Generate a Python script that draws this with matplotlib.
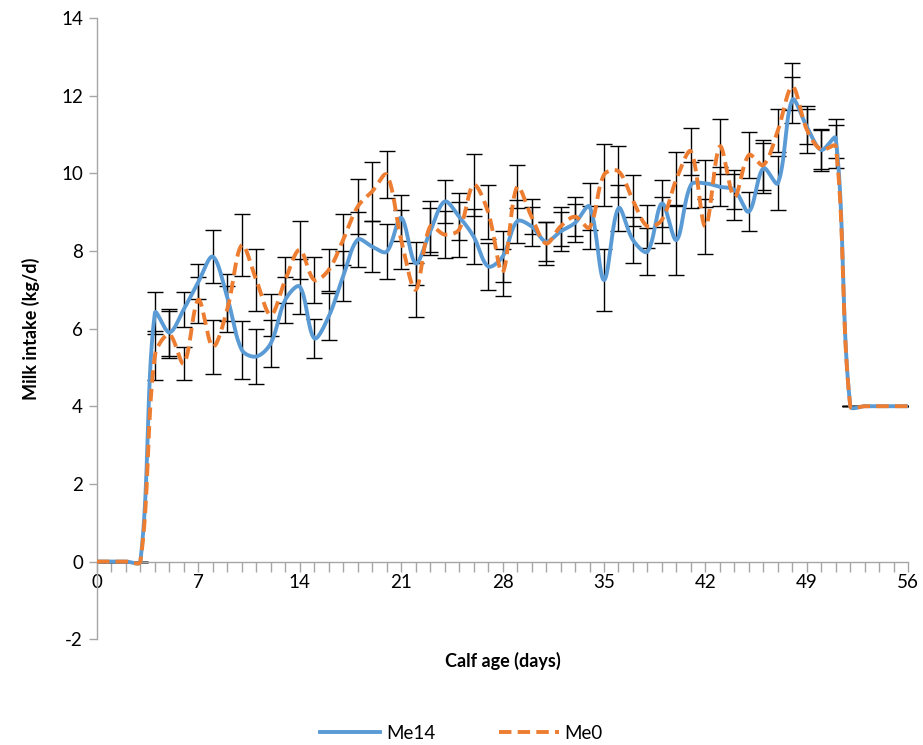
import numpy as np
import matplotlib
matplotlib.use("Agg")
import matplotlib.pyplot as plt
from matplotlib.ticker import MultipleLocator

plt.rcParams["font.family"] = ["Lato", "DejaVu Sans"]
plt.rcParams["axes.unicode_minus"] = False

days = list(range(57))

me14 = [0, 0, 0, 0, 6.4, 5.9, 6.5, 7.2, 7.85, 6.8,
        5.45, 5.28, 5.62, 6.74, 7.08, 5.75, 6.31, 7.35, 8.29, 8.11,
        7.98, 8.85, 7.68, 8.5, 9.27, 8.88, 8.37, 7.6, 7.85, 8.76,
        8.63, 8.24, 8.5, 8.72, 9.14, 7.25, 9.1, 8.28, 7.98, 9.22,
        8.28, 9.7, 9.74, 9.65, 9.57, 9.01, 10.13, 9.74, 11.89, 11.2,
        10.6, 10.9, 4.0, 4.0, 4.0, 4.0, 4.0]
me0 = [0, 0, 0, 0, 5.3, 5.85, 5.1, 6.74, 5.53, 6.5,
       8.15, 7.25, 6.35, 7.25, 8.03, 7.25, 7.51, 8.29, 9.14, 9.53,
       9.96, 8.29, 7.0, 8.63, 8.42, 8.55, 9.7, 9.0, 7.45, 9.65,
       8.88, 8.19, 8.63, 8.88, 8.6, 9.96, 10.05, 9.3, 8.63, 8.8,
       9.85, 10.56, 8.63, 10.69, 9.39, 10.47, 10.21, 11.1, 12.23, 11.12,
       10.6, 10.69, 4.0, 4.0, 4.0, 4.0, 4.0]

se14 = [0, 0, 0, 0, 0.55, 0.6, 0.45, 0.45, 0.69, 0.6,
        0.75, 0.7, 0.6, 0.6, 0.7, 0.5, 0.6, 0.65, 0.7, 0.65,
        0.7, 0.6, 0.55, 0.6, 0.55, 0.6, 0.7, 0.6, 0.65, 0.55,
        0.5, 0.5, 0.5, 0.5, 0.6, 0.8, 0.6, 0.6, 0.6, 0.6,
        0.9, 0.6, 0.6, 0.5, 0.5, 0.5, 0.65, 0.7, 0.6, 0.45,
        0.55, 0.5, 0, 0, 0, 0, 0]
se0 = [0, 0, 0, 0, 0.63, 0.6, 0.43, 0.6, 0.69, 0.6,
       0.8, 0.8, 0.55, 0.6, 0.75, 0.6, 0.55, 0.65, 0.7, 0.75,
       0.6, 0.75, 0.7, 0.65, 0.6, 0.7, 0.8, 0.7, 0.6, 0.55,
       0.45, 0.55, 0.5, 0.5, 0.55, 0.8, 0.65, 0.65, 0.55, 0.6,
       0.7, 0.6, 0.7, 0.7, 0.6, 0.6, 0.65, 0.55, 0.6, 0.6,
       0.5, 0.55, 0, 0, 0, 0, 0]

BLUE = "#5B9BD5"
ORANGE = "#ED7D31"


def smooth(x, y, n=30, sx=14.5, sy=38.8):
    # Excel-like smoothed line: Bezier segments, tangents scaled by chord length
    p = np.column_stack([np.asarray(x, float) * sx, np.asarray(y, float) * sy])
    p = np.vstack([p[:1], p, p[-1:]])
    t = np.linspace(0, 1, n, endpoint=False)[:, None]
    out = []
    for i in range(1, len(p) - 2):
        a, b = p[i], p[i + 1]
        l0 = np.hypot(*(p[i] - p[i - 1])); l1 = np.hypot(*(b - a)); l2 = np.hypot(*(p[i + 2] - b))
        c1 = a + (b - p[i - 1]) * (l1 / (l0 + l1) / 3 if l0 + l1 > 0 else 0)
        c2 = b - (p[i + 2] - a) * (l1 / (l1 + l2) / 3 if l1 + l2 > 0 else 0)
        seg = (1 - t) ** 3 * a + 3 * (1 - t) ** 2 * t * c1 + 3 * (1 - t) * t ** 2 * c2 + t ** 3 * b
        out.append(seg)
    out.append(p[-2:-1])
    out = np.vstack(out)
    return out[:, 0] / sx, out[:, 1] / sy


fig = plt.figure(figsize=(9.23, 7.45), dpi=100)
ax = fig.add_axes([0.105, 0.142, 0.879, 0.834])

ax.errorbar(days, me14, yerr=se14, fmt="none", ecolor="black", elinewidth=1.0,
            capsize=6, capthick=1.0, zorder=2)
ax.errorbar(days, me0, yerr=se0, fmt="none", ecolor="black", elinewidth=1.0,
            capsize=6, capthick=1.0, zorder=2)

xs, ys = smooth(days, me14)
ax.plot(xs, ys, color=BLUE, lw=2.8, label="Me14", zorder=3)
xs, ys = smooth(days, me0)
ax.plot(xs, ys, color=ORANGE, lw=2.8, ls=(0, (3.2, 1.6)), label="Me0", zorder=4)

ax.set_xlim(0, 56)
ax.set_ylim(-2, 14)
ax.xaxis.set_major_locator(MultipleLocator(7))
ax.xaxis.set_minor_locator(MultipleLocator(1))
ax.yaxis.set_major_locator(MultipleLocator(2))

ax.spines[["top", "right"]].set_visible(False)
ax.spines["bottom"].set_position(("data", 0))
for s in ("left", "bottom"):
    ax.spines[s].set_color("#A6A6A6")
    ax.spines[s].set_linewidth(1.0)
ax.tick_params(axis="both", which="both", direction="out", color="#A6A6A6",
               labelsize=13.5, width=1.0)
ax.tick_params(axis="x", which="major", length=7, pad=2)
ax.tick_params(axis="x", which="minor", length=7)
ax.tick_params(axis="y", length=6, pad=4)

ax.set_xlabel("Calf age (days)", fontsize=13, fontweight="bold")
ax.xaxis.set_label_coords(0.5, -0.02)
ax.set_ylabel("Milk intake (kg/d)", fontsize=13, fontweight="bold")
ax.yaxis.set_label_coords(-0.07, 0.5)

fig.legend(loc="center", bbox_to_anchor=(0.5, 0.016), ncol=2, frameon=False,
           fontsize=13.5, handlelength=3.2, columnspacing=3.4, handletextpad=0.3)

fig.savefig("out.png", dpi=100)
